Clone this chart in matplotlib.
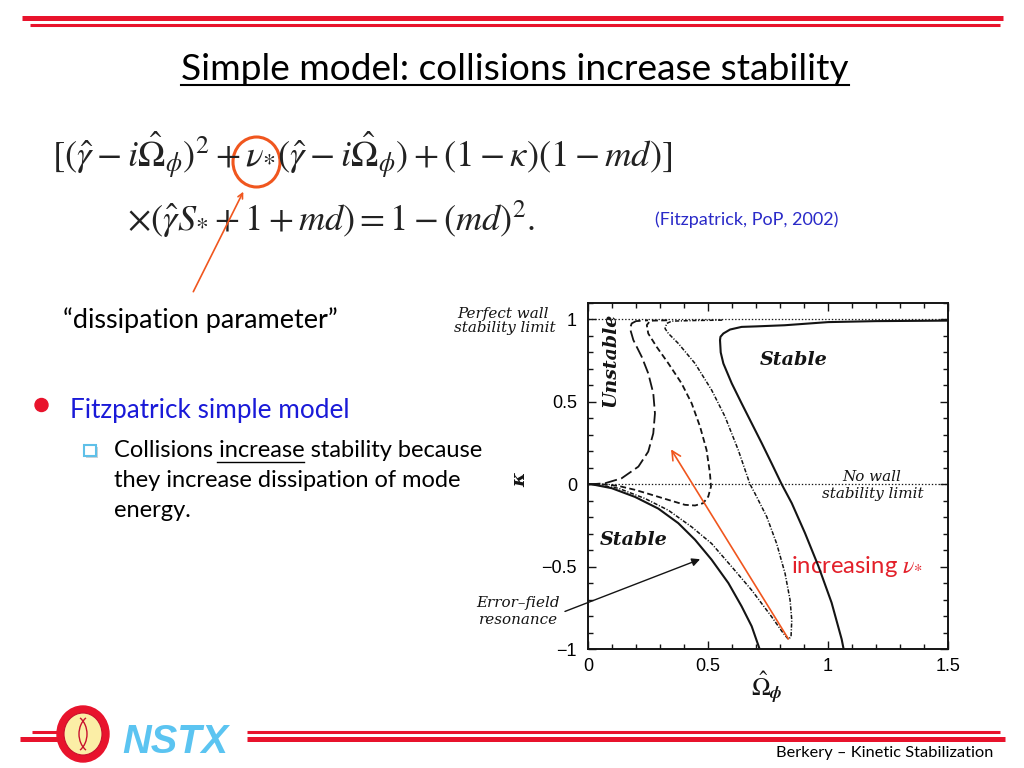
import matplotlib
matplotlib.use('Agg')
import matplotlib.pyplot as plt
from matplotlib.patches import Ellipse, Rectangle, Arc, Circle

plt.rcParams['mathtext.fontset'] = 'stix'
plt.rcParams['lines.scale_dashes'] = False

# ---------------- data ----------------
x_ticks = [0, 0.5, 1, 1.5]
x_tick_labels = ['0', '0.5', '1', '1.5']
y_ticks = [-1, -0.5, 0, 0.5, 1]
y_tick_labels = ['\u22121', '\u22120.5', '0', '0.5', '1']

# solid curve, lower branch (error-field resonance side)
solid_lower_x = [0.0, 0.015, 0.099, 0.196, 0.293, 0.376, 0.446, 0.515, 0.585, 0.640, 0.682, 0.715]
solid_lower_y = [0.0, 0.0, -0.024, -0.077, -0.148, -0.236, -0.337, -0.458, -0.600, -0.741, -0.862, -1.0]
# solid curve, upper/right branch
solid_upper_x = [1.5, 1.2, 1.0, 0.82, 0.70, 0.640, 0.592, 0.564, 0.552, 0.550, 0.553, 0.564, 0.599, 0.640,
                 0.682, 0.724, 0.765, 0.807, 0.849, 0.904, 0.960, 1.015, 1.057, 1.065]
solid_upper_y = [0.993, 0.990, 0.984, 0.965, 0.958, 0.955, 0.939, 0.915, 0.895, 0.875, 0.80, 0.733, 0.612, 0.491,
                 0.370, 0.249, 0.127, 0.0, -0.115, -0.296, -0.497, -0.719, -0.941, -1.0]
# dash-dot curve
dashdot_x = [0.0, 0.015, 0.126, 0.238, 0.335, 0.432, 0.515, 0.599, 0.682, 0.765, 0.814, 0.835, 0.846, 0.849,
             0.842, 0.821, 0.786, 0.745, 0.696, 0.675, 0.626, 0.571, 0.515, 0.446, 0.376, 0.335, 0.321, 0.328,
             0.349, 0.45, 0.56]
dashdot_y = [0.0, 0.0, -0.024, -0.087, -0.158, -0.259, -0.360, -0.501, -0.643, -0.804, -0.905, -0.941, -0.925,
             -0.824, -0.703, -0.541, -0.360, -0.198, -0.057, 0.0, 0.208, 0.410, 0.572, 0.733, 0.855, 0.915, 0.945,
             0.976, 0.990, 0.994, 0.996]
# short-dash curve
sdash_x = [0.33, 0.27, 0.258, 0.245, 0.251, 0.286, 0.335, 0.390, 0.432, 0.467, 0.494, 0.508, 0.5125, 0.501,
           0.480, 0.446, 0.404, 0.335, 0.265, 0.196, 0.126, 0.057, 0.015, 0.0]
sdash_y = [0.995, 0.993, 0.99, 0.966, 0.915, 0.834, 0.733, 0.612, 0.491, 0.349, 0.208, 0.067, -0.014, -0.075,
           -0.115, -0.129, -0.125, -0.095, -0.064, -0.034, -0.010, 0.0, 0.0, 0.0]
# long-dash curve
ldash_x = [0.0, 0.015, 0.071, 0.140, 0.210, 0.251, 0.272, 0.279, 0.272, 0.251, 0.224, 0.189, 0.175, 0.182, 0.20, 0.25]
ldash_y = [0.0, 0.0, 0.006, 0.036, 0.107, 0.198, 0.309, 0.430, 0.552, 0.673, 0.773, 0.875, 0.945, 0.976, 0.99, 0.995]

perfect_wall_level = 1.0
no_wall_level = 0.0

title = 'Simple model: collisions increase stability'
eq_line1 = r'$[(\hat{\gamma}-i\hat{\Omega}_{\phi})^{2}+\nu_{*}(\hat{\gamma}-i\hat{\Omega}_{\phi})+(1-\kappa)(1-md)]$'
eq_line2 = r'$\times(\hat{\gamma}S_{*}+1+md)=1-(md)^{2}.$'
citation = '(Fitzpatrick, PoP, 2002)'
callout = '\u201cdissipation parameter\u201d'
bullet1 = 'Fitzpatrick simple model'
sub_lines = ['Collisions increase stability because', 'they increase dissipation of mode', 'energy.']
footer = 'Berkery \u2013 Kinetic Stabilization'

# ---------------- styling ----------------
RED = '#e8132c'
ORANGE = '#f0561e'
BLUE = '#1a1ad8'
BLUE2 = '#2a2ac8'
LBLUE = '#5bc4f1'
INK = '#141414'
SANS = 'Lato'
SERIF = 'DejaVu Serif'

fig = plt.figure(figsize=(10.24, 7.68), dpi=100)
bg = fig.add_axes([0, 0, 1, 1], zorder=0)
bg.set_xlim(0, 1024)
bg.set_ylim(768, 0)
bg.axis('off')
renderer = fig.canvas.get_renderer()


def fit(t, target, dim='w'):
    for _ in range(3):
        bb = t.get_window_extent(renderer)
        cur = bb.width if dim == 'w' else bb.height
        t.set_fontsize(t.get_fontsize() * target / cur)
    return t


# top red rules
bg.plot([22, 1003], [18.3, 18.3], color=RED, lw=3.6, solid_capstyle='butt')
bg.plot([30, 1000], [25.3, 25.3], color=RED, lw=2.2, solid_capstyle='butt')

# title
tt = bg.text(515, 80, title, ha='center', va='baseline', family=SANS, fontsize=28, color='black')
fit(tt, 668)
bg.plot([181, 849], [84.5, 84.5], color='black', lw=1.5)

# equation
e1 = bg.text(51.7, 168, eq_line1, ha='left', va='baseline', fontsize=22, color='#222222')
fit(e1, 620)
e2 = bg.text(126.7, 231, eq_line2, ha='left', va='baseline', fontsize=22, color='#222222')
fit(e2, 407)
bg.add_patch(Ellipse((256.5, 162), 47, 50, fill=False, ec=ORANGE, lw=2.2))
bg.annotate('', xy=(243.3, 191.7), xytext=(193.3, 291.7),
            arrowprops=dict(arrowstyle='->', color=ORANGE, lw=1.2, mutation_scale=9, shrinkA=0, shrinkB=0))

ct = bg.text(655, 225, citation, ha='left', va='baseline', family=SANS, fontsize=12, color=BLUE2)
fit(ct, 183)

dp = bg.text(63, 328.3, callout, ha='left', va='baseline', family=SANS, fontsize=20, color='black')
fit(dp, 275)

bg.add_patch(Circle((41.5, 405), 6.5, color=RED))
b1 = bg.text(70, 418.3, bullet1, ha='left', va='baseline', family=SANS, fontsize=20, color=BLUE)
fit(b1, 280)

bg.add_patch(Rectangle((85.5, 446.5), 12, 11, fc='#9fa8b0', ec='none', alpha=0.5))
bg.add_patch(Rectangle((84, 445), 12, 11, fc='white', ec='#5fc0e8', lw=1.5))
s1 = bg.text(114, 456.7, sub_lines[0], ha='left', va='baseline', family=SANS, fontsize=17, color='black')
fit(s1, 369)
fs_sub = s1.get_fontsize()
bg.text(114, 486.7, sub_lines[1], ha='left', va='baseline', family=SANS, fontsize=fs_sub, color='black')
bg.text(114, 516.7, sub_lines[2], ha='left', va='baseline', family=SANS, fontsize=fs_sub, color='black')
bg.plot([217, 304], [461.7, 461.7], color='black', lw=1.0)

# annotations outside the chart frame
pw2 = bg.text(505, 328.3, 'stability limit', ha='center', va='center', family=SERIF, style='italic',
              fontsize=10, color=INK)
fit(pw2, 102)
fs_note = pw2.get_fontsize()
bg.text(503.3, 314, 'Perfect wall', ha='center', va='center', family=SERIF, style='italic',
        fontsize=fs_note, color=INK)
bg.text(518.3, 603.3, 'Error\u2013field', ha='center', va='center', family=SERIF, style='italic',
        fontsize=fs_note, color=INK)
bg.text(518.3, 620, 'resonance', ha='center', va='center', family=SERIF, style='italic',
        fontsize=fs_note, color=INK)

# ---------------- chart ----------------
ax = fig.add_axes([588 / 1024, 1 - 649 / 768, 360 / 1024, 346 / 768], zorder=2)
ax.set_facecolor('none')
ax.plot(solid_lower_x, solid_lower_y, color=INK, lw=1.5)
ax.plot(solid_upper_x, solid_upper_y, color=INK, lw=1.5)
l, = ax.plot(dashdot_x, dashdot_y, color=INK, lw=1.1)
l.set_dashes([3.0, 1.2, 0.8, 1.2])
l, = ax.plot(sdash_x, sdash_y, color=INK, lw=1.3)
l.set_dashes([4.3, 2.4])
l, = ax.plot(ldash_x, ldash_y, color=INK, lw=1.3)
l.set_dashes([9.0, 3.2])
ax.axhline(perfect_wall_level, color=INK, lw=0.9, ls=(0, (1, 1.4)))
ax.axhline(no_wall_level, color=INK, lw=0.9, ls=(0, (1, 1.4)))

ax.set_xlim(0, 1.5)
ax.set_ylim(-1, 1.1)
ax.set_xticks(x_ticks)
ax.set_xticklabels(x_tick_labels)
ax.set_yticks(y_ticks)
ax.set_yticklabels(y_tick_labels)
ax.set_xticks([i / 10 for i in range(0, 16)], minor=True)
ax.set_yticks([i / 10 for i in range(-10, 12)], minor=True)
ax.tick_params(which='both', direction='in', top=True, right=True, color=INK, width=1.0)
ax.tick_params(which='major', length=6)
ax.tick_params(which='minor', length=3.5)
ax.tick_params(axis='y', pad=8, labelsize=13)
ax.tick_params(axis='x', pad=6.5, labelsize=13)
for lab in ax.get_xticklabels() + ax.get_yticklabels():
    lab.set_family('Liberation Sans')
for sp in ax.spines.values():
    sp.set_linewidth(1.4)
    sp.set_color(INK)

un = ax.text(0.092, 0.753, 'Unstable', rotation=90, ha='center', va='center', family=SERIF,
             weight='bold', style='italic', fontsize=13, color=INK)
fit(un, 94, dim='h')
st1 = ax.text(0.856, 0.753, 'Stable', ha='center', va='center', family=SERIF, weight='bold',
              style='italic', fontsize=13, color=INK)
fit(st1, 68)
ax.text(0.189, -0.338, 'Stable', ha='center', va='center', family=SERIF, weight='bold',
        style='italic', fontsize=st1.get_fontsize(), color=INK)
ax.text(1.182, 0.046, 'No wall', ha='center', va='center', family=SERIF, style='italic',
        fontsize=fs_note, color=INK)
ax.text(1.186, -0.059, 'stability limit', ha='center', va='center', family=SERIF, style='italic',
        fontsize=fs_note, color=INK)

ax.annotate('', xy=(0.346, 0.212), xytext=(0.835, -0.939),
            arrowprops=dict(arrowstyle='->', color=ORANGE, lw=1.2, mutation_scale=16, shrinkA=0, shrinkB=0))
ax.annotate('', xy=(0.467, -0.455), xytext=(-0.096, -0.772), annotation_clip=False,
            arrowprops=dict(arrowstyle='-|>', color=INK, lw=1.0, mutation_scale=12, shrinkA=0, shrinkB=0))

inc = bg.text(856.7, 566.7, r'increasing $\nu_{*}$', ha='center', va='center', family=SANS,
              fontsize=15, color='#e3202a')
fit(inc, 132)

bg.text(520, 480, '\u03ba', rotation=90, ha='center', va='center', family=SERIF, weight='bold',
        style='italic', fontsize=14, color=INK)
bg.text(767, 688, r'$\hat{\Omega}_{\boldsymbol{\phi}}$', ha='center', va='center', fontsize=18, color=INK)

# ---------------- footer ----------------
bg.plot([32, 58], [731.7, 731.7], color=RED, lw=2.2, solid_capstyle='butt')
bg.plot([20, 58], [738.5, 738.5], color=RED, lw=3.6, solid_capstyle='butt')
bg.plot([247, 1000], [732.3, 732.3], color=RED, lw=2.2, solid_capstyle='butt')
bg.plot([247, 1005], [739.3, 739.3], color=RED, lw=3.6, solid_capstyle='butt')
bg.add_patch(Ellipse((83, 734), 52, 56, color=RED, zorder=3))
bg.add_patch(Ellipse((83, 734), 38, 42, fc='#fbeea6', ec='#c8102e', lw=0.8, zorder=4))
bg.add_patch(Arc((96, 734), 34, 40, theta1=122, theta2=238, ec='#c8102e', lw=1.0, zorder=5))
bg.add_patch(Arc((70, 734), 34, 40, theta1=-58, theta2=58, ec='#c8102e', lw=1.0, zorder=5))
ns = bg.text(122, 753, 'NSTX', ha='left', va='baseline', family='Liberation Sans', weight='bold',
             style='italic', fontsize=29, color=LBLUE)
fit(ns, 106)
ft = bg.text(993, 757, footer, ha='right', va='baseline', family=SANS, fontsize=11, color='black')
fit(ft, 217)

fig.savefig('out.png', dpi=100)
